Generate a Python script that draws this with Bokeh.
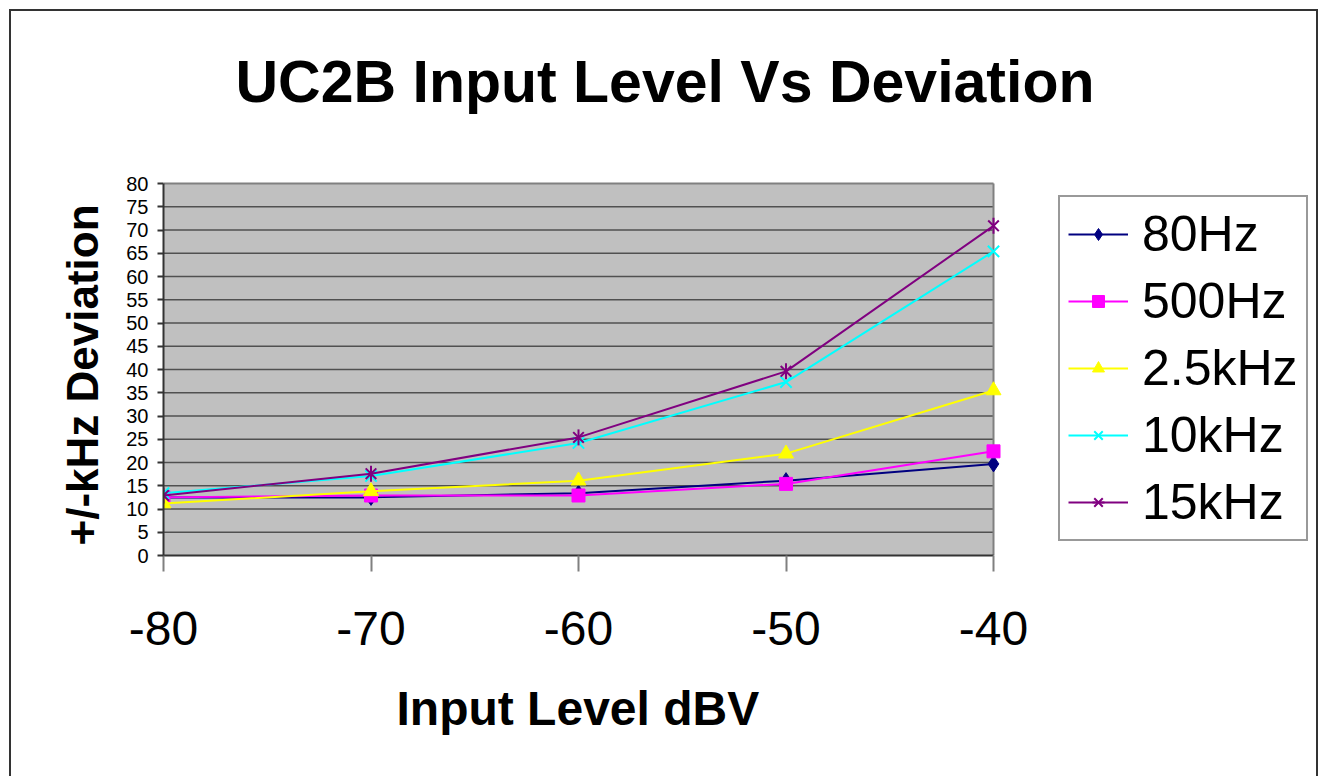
from bokeh.plotting import figure
from bokeh.embed import file_html
from bokeh.resources import INLINE
from bokeh.models import Legend, FixedTicker, Title
from math import pi

# ---- data ----
input_level = [-80, -70, -60, -50, -40]
dev_80hz = [12.5, 12.5, 13.4, 16.1, 19.7]
dev_500hz = [12.5, 12.9, 12.9, 15.4, 22.4]
dev_2k5 = [11.2, 13.8, 16.1, 21.9, 35.5]
dev_10k = [13.4, 17.1, 24.2, 37.3, 65.4]
dev_15k = [12.9, 17.6, 25.4, 39.6, 70.9]
series_names = ["80Hz", "500Hz", "2.5kHz", "10kHz", "15kHz"]
x_ticks = [-80, -70, -60, -50, -40]
x_tick_labels = ["-80", "-70", "-60", "-50", "-40"]
y_ticks = list(range(0, 85, 5))

FONT = "Liberation Sans"

# layout: the frame is widened to the right (legend inside it) and upward;
# the grey plot area itself only covers -80..-40 x 0..80
W, H = 1323, 776
LEFT, RIGHT, TOP, BOTTOM = 163, 8, 120, 221
PLOT_W, PLOT_H = 830, 372
FRAME_W = W - LEFT - RIGHT
FRAME_H = H - TOP - BOTTOM
x_lo, x_hi = x_ticks[0], x_ticks[-1]
y_lo, y_hi = y_ticks[0], y_ticks[-1]
x_end = x_hi + (FRAME_W - PLOT_W) / PLOT_W * (x_hi - x_lo)
y_end = y_hi + (FRAME_H - PLOT_H) / PLOT_H * (y_hi - y_lo)

p = figure(width=W, height=H, output_backend="svg", toolbar_location=None,
           x_range=(x_lo, x_end), y_range=(y_lo, y_end),
           min_border_left=LEFT, min_border_right=RIGHT,
           min_border_top=TOP, min_border_bottom=BOTTOM,
           title=None)

# outer chart border (left, top, right) drawn as CSS background of the host
p.styles = {
    "background-image": "linear-gradient(#333333,#333333), linear-gradient(#333333,#333333), linear-gradient(#333333,#333333)",
    "background-size": "2px 100%, 2px 100%, 1309px 2px",
    "background-position": "9px 9px, 1316px 9px, 9px 9px",
    "background-repeat": "no-repeat",
}
p.border_fill_alpha = 0
p.background_fill_alpha = 0
p.outline_line_color = None

# grey plot area
p.quad(left=[x_lo], right=[x_hi], bottom=[y_lo], top=[y_hi],
       fill_color="#C0C0C0", line_color=None)
grid_y = y_ticks[1:-1]
p.segment(x0=[x_lo] * len(grid_y), x1=[x_hi] * len(grid_y), y0=grid_y, y1=grid_y,
          line_color="#505050", line_width=1.7)
p.segment(x0=[x_lo, x_hi], x1=[x_hi, x_hi], y0=[y_hi, y_lo], y1=[y_hi, y_hi],
          line_color="#808080", line_width=2)

# title
title = Title(text="UC2B Input Level Vs Deviation", text_font=FONT, text_font_size="59px",
              text_font_style="bold", text_color="black", align="left",
              offset=72, standoff=12)
p.add_layout(title, "above")

p.xgrid.visible = False
p.ygrid.visible = False

# x axis
p.xaxis.ticker = FixedTicker(ticks=x_ticks)
p.xaxis.bounds = (x_lo, x_hi)
p.xaxis.major_label_overrides = {t: lab for t, lab in zip(x_ticks, x_tick_labels)}
p.xaxis.major_label_text_font = FONT
p.xaxis.major_label_text_font_size = "48px"
p.xaxis.major_label_text_color = "black"
p.xaxis.major_tick_out = 16
p.xaxis.major_tick_in = 0
p.xaxis.minor_tick_line_color = None
p.xaxis.major_tick_line_color = "#808080"
p.xaxis.major_tick_line_width = 2
p.xaxis.axis_line_color = "#333333"
p.xaxis.axis_line_width = 2
p.xaxis.major_label_standoff = 40

xlab = Title(text="Input Level dBV", text_font=FONT, text_font_size="48px",
             text_font_style="bold", text_color="black", align="left",
             offset=233, standoff=64)
p.add_layout(xlab, "below")

# y axis
p.yaxis.ticker = FixedTicker(ticks=y_ticks)
p.yaxis.bounds = (y_lo, y_hi)
p.yaxis.major_label_text_font = FONT
p.yaxis.major_label_text_font_size = "20px"
p.yaxis.major_label_text_color = "black"
p.yaxis.major_tick_out = 6
p.yaxis.major_tick_in = 0
p.yaxis.minor_tick_line_color = None
p.yaxis.major_tick_line_color = "#333333"
p.yaxis.major_tick_line_width = 2
p.yaxis.axis_line_color = "#333333"
p.yaxis.axis_line_width = 2
p.yaxis.major_label_standoff = 9

ylab = Title(text="+/-kHz Deviation", text_font=FONT, text_font_size="44px",
             text_font_style="bold", text_color="black", align="left",
             offset=10, standoff=34)
p.add_layout(ylab, "left")

# series
items = []
r = p.line(input_level, dev_80hz, line_color="#000080", line_width=2)
m = p.scatter(input_level, dev_80hz, marker="diamond", size=16, fill_color="#000080", line_color="#000080")
items.append((series_names[0], [r, m]))

r = p.line(input_level, dev_500hz, line_color="#FF00FF", line_width=2)
m = p.scatter(input_level, dev_500hz, marker="square", size=13, fill_color="#FF00FF", line_color="#FF00FF")
items.append((series_names[1], [r, m]))

r = p.line(input_level, dev_2k5, line_color="#FFFF00", line_width=2)
m = p.scatter(input_level, dev_2k5, marker="triangle", size=15, fill_color="#FFFF00", line_color="#FFFF00")
items.append((series_names[2], [r, m]))

r = p.line(input_level, dev_10k, line_color="#00FFFF", line_width=2)
m = p.scatter(input_level, dev_10k, marker="x", size=16, line_color="#00FFFF", line_width=2)
items.append((series_names[3], [r, m]))

r = p.line(input_level, dev_15k, line_color="#800080", line_width=2)
m1 = p.scatter(input_level, dev_15k, marker="x", size=15, line_color="#800080", line_width=2)
m2 = p.scatter(input_level, dev_15k, marker="dash", size=16, angle=pi / 2, line_color="#800080", line_width=2)
items.append((series_names[4], [r, m1, m2]))

legend = Legend(items=items, location=(895, 14))
legend.label_text_font = FONT
legend.label_text_font_size = "50px"
legend.label_text_color = "black"
legend.border_line_color = "#333333"
legend.border_line_width = 2
legend.background_fill_color = "white"
legend.background_fill_alpha = 1
legend.padding = 8
legend.spacing = 9
legend.glyph_width = 60
legend.glyph_height = 30
legend.label_standoff = 14
legend.margin = 0
p.add_layout(legend, "center")

open("out.html", "w").write(file_html(p, INLINE))
